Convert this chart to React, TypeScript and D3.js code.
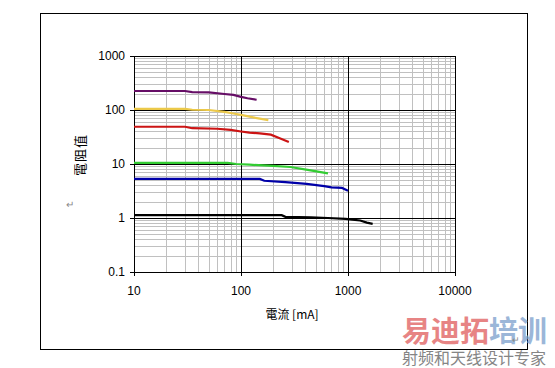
import React from "react";
import { scaleLog, line } from "d3";

const xTicks = [10, 100, 1000, 10000];
const yTicks = [0.1, 1, 10, 100, 1000];
const xTickLabels = ["10", "100", "1000", "10000"];
const yTickLabels = ["0.1", "1", "10", "100", "1000"];

// [current mA, value]
const purple = [[10, 225], [30, 225], [35, 215], [50, 212], [70, 198], [85, 190], [100, 175], [115, 165], [140, 155]];
const yellow = [[10, 105], [30, 105], [35, 101], [50, 100], [70, 92], [85, 86], [100, 81], [130, 73], [180, 65]];
const red = [[10, 49], [30, 49], [35, 46], [60, 45], [80, 43], [100, 40], [120, 38], [150, 37], [190, 35], [230, 30], [280, 25.5]];
const green = [[10, 10.5], [75, 10.5], [90, 10], [120, 9.7], [200, 9.2], [290, 8.8], [420, 7.8], [650, 6.7]];
const blue = [[10, 5.3], [150, 5.3], [165, 4.9], [260, 4.6], [410, 4.3], [600, 3.9], [700, 3.7], [880, 3.6], [1000, 3.2]];
const black = [[10, 1.13], [240, 1.13], [260, 1.05], [450, 1.03], [650, 1.0], [950, 0.96], [1100, 0.93], [1300, 0.9], [1500, 0.82], [1700, 0.78]];

const series = [
  { data: purple, color: "#660e66" },
  { data: yellow, color: "#ecc94a" },
  { data: red, color: "#cc1414" },
  { data: green, color: "#33cc33" },
  { data: blue, color: "#0000a8" },
  { data: black, color: "#000000" },
];

export default function App() {
  const width = 555,
    height = 368,
    left = 134,
    right = 455,
    top = 56,
    bottom = 272;

  const x = scaleLog().domain([10, 10000]).range([left, right]);
  const y = scaleLog().domain([0.1, 1000]).range([bottom, top]);

  const minorX: number[] = [];
  for (let d = 10; d < 10000; d *= 10) for (let k = 2; k <= 9; k++) minorX.push(d * k);
  const minorY: number[] = [];
  for (let d = 0.1; d < 999; d *= 10) for (let k = 2; k <= 9; k++) minorY.push(d * k);

  const path = line<number[]>()
    .x(d => x(d[0]))
    .y(d => y(d[1]));

  const font = "Arial, 'Liberation Sans', sans-serif";

  return (
    <svg
      width={width}
      height={height}
      style={{ position: "absolute", left: 0, top: 0, background: "#fff" }}
      fontFamily={font}
    >
      <rect x={40.5} y={13.5} width={487} height={336} fill="#fff" stroke="#000" />
      <g shapeRendering="crispEdges">
        {minorX.map(v => (
          <line key={"mx" + v} x1={Math.round(x(v)) + 0.5} x2={Math.round(x(v)) + 0.5} y1={top} y2={bottom} stroke="#c0c0c0" />
        ))}
        {minorY.map(v => (
          <line key={"my" + v} x1={left} x2={right} y1={Math.round(y(v)) + 0.5} y2={Math.round(y(v)) + 0.5} stroke="#c0c0c0" />
        ))}
        {xTicks.map(v => (
          <line key={"x" + v} x1={Math.round(x(v)) + 0.5} x2={Math.round(x(v)) + 0.5} y1={top} y2={bottom + 4} stroke="#000" />
        ))}
        {yTicks.map(v => (
          <line key={"y" + v} x1={left - 4} x2={right} y1={Math.round(y(v)) + 0.5} y2={Math.round(y(v)) + 0.5} stroke="#000" />
        ))}
      </g>
      {series.map((s, i) => (
        <path key={i} d={path(s.data) || ""} fill="none" stroke={s.color} strokeWidth={2.2} />
      ))}
      {yTicks.map((v, i) => (
        <text key={"yl" + v} x={left - 9} y={y(v)} dy="0.35em" textAnchor="end" fontSize={12}>
          {yTickLabels[i]}
        </text>
      ))}
      {xTicks.map((v, i) => (
        <text key={"xl" + v} x={x(v)} y={bottom + 19} dy="0.35em" textAnchor="middle" fontSize={12}>
          {xTickLabels[i]}
        </text>
      ))}
      <text x={292} y={319} textAnchor="middle" fontSize={12} fontFamily="'Noto Sans CJK TC', sans-serif">
        電流 [mA]
      </text>
      <text
        transform="translate(80,155) rotate(-90)"
        textAnchor="middle"
        dy="0.35em"
        fontSize={13}
        letterSpacing={1}
        fill="#000"
        fontFamily="'Noto Sans CJK TC', sans-serif"
      >
        電阻值
      </text>
      <text x={66} y={208} fontSize={10} fill="#888">↵</text>
      <g fontFamily="'Noto Sans CJK SC', sans-serif" fontWeight="bold">
        <text x={402} y={342} fontSize={29} opacity={0.75}>
          <tspan fill="#e05c5c">易迪拓</tspan>
          <tspan fill="#7a9ecc">培训</tspan>
        </text>
        <text x={402} y={364} fontSize={16} fill="#707070" fontWeight="normal" opacity={0.85}>
          射频和天线设计专家
        </text>
      </g>
      <text x={512} y={343} fontSize={9} fill="#888">↵</text>
    </svg>
  );
}
